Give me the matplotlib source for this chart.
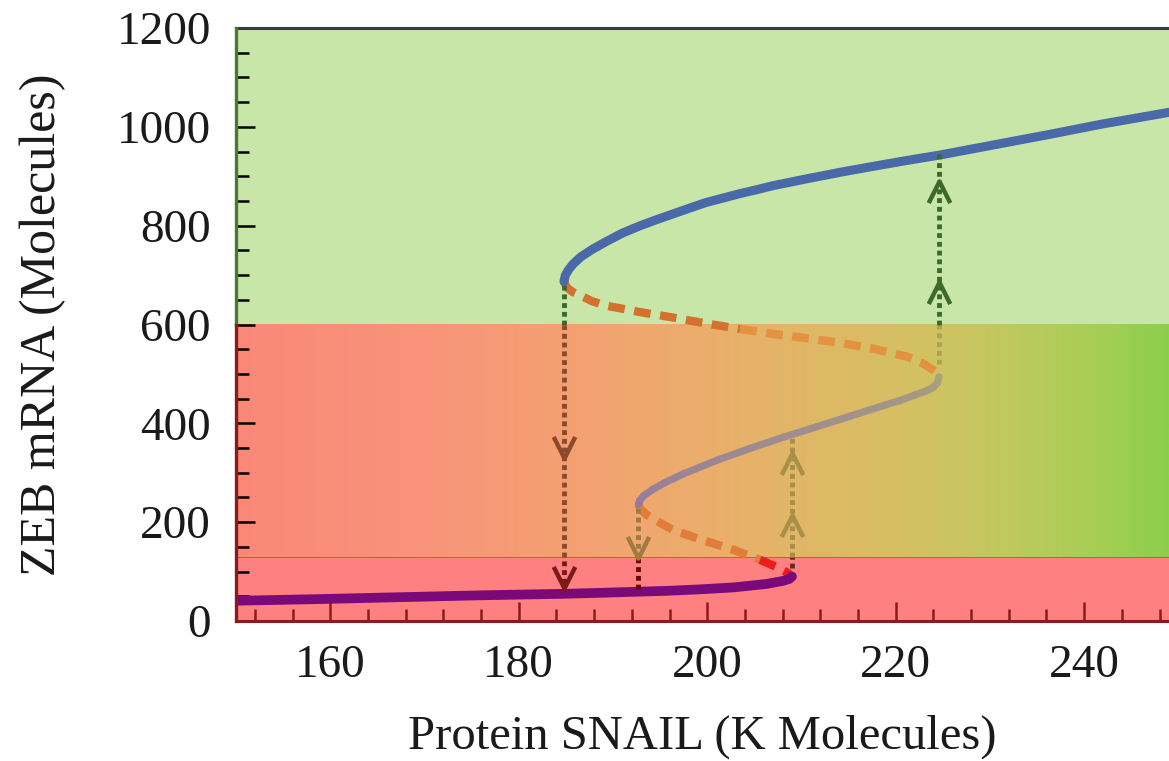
import numpy as np
import matplotlib
matplotlib.use("Agg")
import matplotlib.pyplot as plt
from matplotlib.path import Path
from matplotlib.collections import LineCollection
from matplotlib.colors import to_rgb
from matplotlib.ticker import MultipleLocator

# ---------------- data ----------------
# high (mesenchymal) stable branch
upper_x = [184.8, 184.95, 185.3, 185.8, 186.6, 187.8, 189.3, 191.0, 192.9, 194.6, 196.4, 198.2, 199.9,
           201.7, 203.5, 205.3, 207.0, 210.6, 214.1, 217.6, 221.2, 224.7, 230.0, 236.4, 242.0, 249.2]
upper_y = [687, 700, 711, 723, 737, 752, 768, 785, 800, 812, 824, 836, 847,
           856, 865, 873, 881, 895, 908, 920, 932, 943, 962, 985, 1006, 1030]
# upper unstable (dashed) branch
upper_unst_x = [184.8, 185.1, 185.7, 186.5, 187.8, 189.3, 192.9, 196.4, 199.9, 203.5,
                207.0, 210.6, 214.1, 217.6, 221.2, 222.9, 223.9, 224.4, 224.6]
upper_unst_y = [687, 675, 666, 659, 647, 638, 625, 614, 602, 591,
                581, 572, 563, 551, 535, 521, 509, 501, 494]
# intermediate (hybrid) stable branch
mid_x = [224.6, 224.45, 224.0, 223.2, 222.0, 220.4, 218.7, 215.1, 211.6, 208.1,
         204.5, 201.0, 197.5, 195.5, 194.2, 193.3, 192.85, 192.7]
mid_y = [494, 483, 473, 465, 457, 446, 436, 414, 393, 372,
         349, 325, 298, 280, 266, 254, 244, 236]
# lower unstable (dashed) branch
lower_unst_x = [192.7, 192.9, 193.5, 194.3, 196.4, 199.3, 202.8, 205.6, 207.5, 208.5, 209.0]
lower_unst_y = [236, 227, 216, 206, 184, 165, 144, 124, 108, 98, 90]
# low (epithelial) stable branch
lower_x = [209.0, 208.7, 208.0, 206.3, 202.8, 199.2, 195.7, 192.1, 188.6, 184.7,
           176.0, 167.0, 158.0, 150.0]
lower_y = [90, 85, 81, 75, 68, 64, 61, 59, 57, 55, 52, 48, 44, 41]

# transitions (vertical dotted arrows)
jump_x = [184.8, 192.7, 209.0, 224.6]
jump_from = [683, 230, 107, 521]
jump_to = [58, 64, 372, 952]
chevron_y = [[329, 67], [127], [214, 339], [891, 685]]
chevron_dir = ["down", "down", "up", "up"]

# phenotype bands
band_low, band_high = 130, 600

x_ticks = [160, 180, 200, 220, 240]
y_ticks = [0, 200, 400, 600, 800, 1000, 1200]
x_label = "Protein SNAIL (K Molecules)"
y_label = "ZEB mRNA (Molecules)"

# ---------------- figure ----------------
W, H = 1169, 761
fig = plt.figure(figsize=(W / 100, H / 100), dpi=100)
ax = fig.add_axes([236 / W, (H - 621) / H, (W - 236) / W, (621 - 28) / H])
xmin, xmax, ymin, ymax = 150, 249.0, 0, 1200
ax.set_xlim(xmin, xmax)
ax.set_ylim(ymin, ymax)

# background bands
ax.axhspan(band_high, ymax, color="#c9e6a9", zorder=0, lw=0)
ax.axhspan(ymin, band_low, color="#ff8080", zorder=0, lw=0)
stop_x = [150, 170, 185, 200, 215, 225, 235, 242, 249]
stop_c = ["#fa8878", "#f8947a", "#f4a072", "#ebae6c", "#dcbb64", "#cfc362",
          "#b8cb5c", "#a4ce54", "#8ccf4c"]
gx = np.linspace(xmin, xmax, 600)
rgb = np.array([to_rgb(c) for c in stop_c])
grad = np.stack([np.interp(gx, stop_x, rgb[:, k]) for k in range(3)], axis=-1)[None, :, :]
ax.imshow(grad, extent=(xmin, xmax, band_low, band_high), aspect="auto",
          interpolation="bilinear", zorder=0)
ax.axhline(band_low, color="#8a7070", lw=0.7, zorder=1)

# stable branches
ax.plot(upper_x, upper_y, color="#4a69a8", lw=6.5, solid_capstyle="round",
        solid_joinstyle="round", zorder=4)
ax.plot(lower_x, lower_y, color="#7a0a7a", lw=7, solid_capstyle="round",
        solid_joinstyle="round", zorder=4)
pts = np.column_stack([mid_x, mid_y])
segs = np.stack([pts[:-1], pts[1:]], axis=1)
t = np.linspace(0, 1, len(segs))
c0, c1 = np.array(to_rgb("#a9a27c")), np.array(to_rgb("#957a9e"))
seg_cols = [(1 - s) * c0 + s * c1 for s in t]
ax.add_collection(LineCollection(segs, colors=seg_cols, linewidths=5.2,
                                 capstyle="round", joinstyle="round", zorder=4))

# unstable branches (dashed), coloured per band
dash = (0, (2.0, 1.15))
def dashed_split(xs, ys, split, col_above, col_below):
    xs, ys = np.asarray(xs), np.asarray(ys)
    above = ys >= split
    change = above != above[0]
    idx = int(np.argmax(change)) if change.any() else len(xs)
    ca = col_above if above[0] else col_below
    cb = col_below if above[0] else col_above
    ax.plot(xs[:idx + 1], ys[:idx + 1], color=ca, lw=6, linestyle=dash,
            dash_capstyle="butt", zorder=3)
    if idx < len(xs):
        ax.plot(xs[idx:], ys[idx:], color=cb, lw=6, linestyle=dash,
                dash_capstyle="butt", zorder=3)

dashed_split(upper_unst_x, upper_unst_y, band_high, "#d4712e", "#e3923f")
dashed_split(lower_unst_x, lower_unst_y, band_low, "#e27c3a", "#ee1c1c")

# transition arrows
arrow_cols = [
    {"top": "#3c6a2a", "mid": "#8c4a2c", "low": "#7a1a1a"},
    {"top": "#3c6a2a", "mid": "#a07a40", "low": "#6a0a0a"},
    {"top": "#3c6a2a", "mid": "#a89048", "low": "#5e2e24"},
    {"top": "#3c6a2a", "mid": "#a8a450", "low": "#5e2e24"},
]
def band_of(y):
    return "top" if y > band_high else ("mid" if y > band_low else "low")

down = Path([(-1, 2), (0, 0), (1, 2)], [Path.MOVETO, Path.LINETO, Path.LINETO])
up = Path([(-1, -2), (0, 0), (1, -2)], [Path.MOVETO, Path.LINETO, Path.LINETO])
dots = (0, (1, 0.8))
for i, x in enumerate(jump_x):
    y0, y1 = jump_from[i], jump_to[i]
    lo, hi = min(y0, y1), max(y0, y1)
    cuts = [lo] + [b for b in (band_low, band_high) if lo < b < hi] + [hi]
    for a, b in zip(cuts[:-1], cuts[1:]):
        col = arrow_cols[i][band_of((a + b) / 2)]
        ax.plot([x, x], [a, b], color=col, lw=3.5, linestyle=dots, zorder=5)
    for cy in chevron_y[i]:
        mk = down if chevron_dir[i] == "down" else up
        probe = cy + 20 if chevron_dir[i] == "down" else cy - 20
        ax.plot([x], [cy], marker=mk, ms=31, mfc="none", mec=arrow_cols[i][band_of(probe)],
                mew=3.2, linestyle="none", zorder=6)

# axes styling
serif = ["Liberation Serif", "DejaVu Serif"]
ax.set_xticks(x_ticks)
ax.set_yticks(y_ticks)
ax.xaxis.set_minor_locator(MultipleLocator(4))
ax.yaxis.set_minor_locator(MultipleLocator(50))
ax.tick_params(which="major", direction="in", length=14, width=1.8, labelsize=34)
ax.tick_params(which="minor", direction="in", length=9, width=1.8)
ax.tick_params(axis="x", which="both", color="#8b1a1a", pad=17)
ax.tick_params(axis="y", pad=18)
for lab in ax.get_xticklabels() + ax.get_yticklabels():
    lab.set_fontfamily(serif)
    lab.set_color("#1a1a1a")

green_tick, red_tick = "#3c6a2a", "#8b1a1a"
for tk in ax.yaxis.get_major_ticks():
    tk.tick1line.set_color(green_tick if tk.get_loc() > band_high else red_tick)
minlocs = ax.yaxis.get_minorticklocs()
for tk, loc in zip(ax.yaxis.get_minor_ticks(len(minlocs)), minlocs):
    tk.tick1line.set_color(green_tick if loc > band_high else red_tick)

ax.spines["right"].set_visible(False)
ax.spines["left"].set_visible(False)
ax.spines["top"].set_color("#3a3a3a")
ax.spines["top"].set_linewidth(2.2)
ax.spines["bottom"].set_color("#8b1a1a")
ax.spines["bottom"].set_linewidth(2.2)
frac = (band_high - ymin) / (ymax - ymin)
ax.axvline(xmin, ymin=frac, ymax=1, color="#4a7a30", lw=2.4, clip_on=False, zorder=7)
ax.axvline(xmin, ymin=0, ymax=frac, color="#8b1a1a", lw=2.4, clip_on=False, zorder=7)

ax.set_xlabel(x_label, fontsize=35, family=serif, color="#1a1a1a", labelpad=20)
ax.set_ylabel(y_label, fontsize=36, family=serif, color="#1a1a1a", labelpad=36)

fig.savefig("out.png", dpi=100)
